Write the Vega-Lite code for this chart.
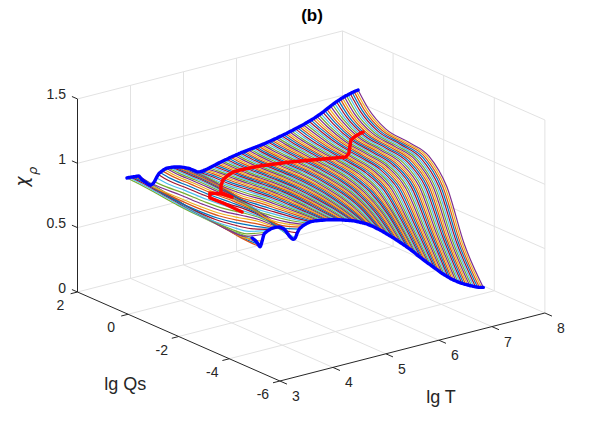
{"$schema":"https://vega.github.io/schema/vega-lite/v6.json","width":603,"height":428,"padding":0,"autosize":"none","background":"white","config":{"view":{"stroke":null},"font":"Liberation Sans"},
"data":{"values":[
{"k":"grid","g":"a4","T":4,"Q":2,"c":0},{"k":"grid","g":"a4","T":4,"Q":2,"c":1.5},{"k":"grid","g":"a5","T":5,"Q":2,"c":0},{"k":"grid","g":"a5","T":5,"Q":2,"c":1.5},{"k":"grid","g":"a6","T":6,"Q":2,"c":0},{"k":"grid","g":"a6","T":6,"Q":2,"c":1.5},{"k":"grid","g":"a7","T":7,"Q":2,"c":0},{"k":"grid","g":"a7","T":7,"Q":2,"c":1.5},{"k":"grid","g":"a8","T":8,"Q":2,"c":0},{"k":"grid","g":"a8","T":8,"Q":2,"c":1.5},
{"k":"grid","g":"b0","T":8,"Q":0,"c":0},{"k":"grid","g":"b0","T":8,"Q":0,"c":1.5},{"k":"grid","g":"b2","T":8,"Q":-2,"c":0},{"k":"grid","g":"b2","T":8,"Q":-2,"c":1.5},{"k":"grid","g":"b4","T":8,"Q":-4,"c":0},{"k":"grid","g":"b4","T":8,"Q":-4,"c":1.5},{"k":"grid","g":"b6","T":8,"Q":-6,"c":0},{"k":"grid","g":"b6","T":8,"Q":-6,"c":1.5},
{"k":"grid","g":"c1","T":3,"Q":2,"c":0.5},{"k":"grid","g":"c1","T":8,"Q":2,"c":0.5},{"k":"grid","g":"c2","T":3,"Q":2,"c":1},{"k":"grid","g":"c2","T":8,"Q":2,"c":1},{"k":"grid","g":"c3","T":3,"Q":2,"c":1.5},{"k":"grid","g":"c3","T":8,"Q":2,"c":1.5},
{"k":"grid","g":"d1","T":8,"Q":2,"c":0.5},{"k":"grid","g":"d1","T":8,"Q":-6,"c":0.5},{"k":"grid","g":"d2","T":8,"Q":2,"c":1},{"k":"grid","g":"d2","T":8,"Q":-6,"c":1},{"k":"grid","g":"d3","T":8,"Q":2,"c":1.5},{"k":"grid","g":"d3","T":8,"Q":-6,"c":1.5},
{"k":"grid","g":"e4","T":4,"Q":2,"c":0},{"k":"grid","g":"e4","T":4,"Q":-6,"c":0},{"k":"grid","g":"e5","T":5,"Q":2,"c":0},{"k":"grid","g":"e5","T":5,"Q":-6,"c":0},{"k":"grid","g":"e6","T":6,"Q":2,"c":0},{"k":"grid","g":"e6","T":6,"Q":-6,"c":0},{"k":"grid","g":"e7","T":7,"Q":2,"c":0},{"k":"grid","g":"e7","T":7,"Q":-6,"c":0},{"k":"grid","g":"e8","T":8,"Q":2,"c":0},{"k":"grid","g":"e8","T":8,"Q":-6,"c":0},
{"k":"grid","g":"f2","T":3,"Q":2,"c":0},{"k":"grid","g":"f2","T":8,"Q":2,"c":0},{"k":"grid","g":"f0","T":3,"Q":0,"c":0},{"k":"grid","g":"f0","T":8,"Q":0,"c":0},{"k":"grid","g":"f-2","T":3,"Q":-2,"c":0},{"k":"grid","g":"f-2","T":8,"Q":-2,"c":0},{"k":"grid","g":"f-4","T":3,"Q":-4,"c":0},{"k":"grid","g":"f-4","T":8,"Q":-4,"c":0},
{"k":"axis","g":"z","T":3,"Q":2,"c":0},{"k":"axis","g":"z","T":3,"Q":2,"c":1.5},{"k":"axis","g":"q","T":3,"Q":2,"c":0},{"k":"axis","g":"q","T":3,"Q":-6,"c":0},{"k":"axis","g":"t","T":3,"Q":-6,"c":0},{"k":"axis","g":"t","T":8,"Q":-6,"c":0},
{"k":"axis","g":"z0","T":3,"Q":2,"c":0},{"k":"axis","g":"z0","T":3,"Q":2.22,"c":0},{"k":"axis","g":"z1","T":3,"Q":2,"c":0.5},{"k":"axis","g":"z1","T":3,"Q":2.22,"c":0.5},{"k":"axis","g":"z2","T":3,"Q":2,"c":1},{"k":"axis","g":"z2","T":3,"Q":2.22,"c":1},{"k":"axis","g":"z3","T":3,"Q":2,"c":1.5},{"k":"axis","g":"z3","T":3,"Q":2.22,"c":1.5},
{"k":"axis","g":"q2","T":3,"Q":2,"c":0},{"k":"axis","g":"q2","T":2.87,"Q":2,"c":0},{"k":"axis","g":"q0","T":3,"Q":0,"c":0},{"k":"axis","g":"q0","T":2.87,"Q":0,"c":0},{"k":"axis","g":"q-2","T":3,"Q":-2,"c":0},{"k":"axis","g":"q-2","T":2.87,"Q":-2,"c":0},{"k":"axis","g":"q-4","T":3,"Q":-4,"c":0},{"k":"axis","g":"q-4","T":2.87,"Q":-4,"c":0},{"k":"axis","g":"q-6","T":3,"Q":-6,"c":0},{"k":"axis","g":"q-6","T":2.87,"Q":-6,"c":0},
{"k":"axis","g":"t3","T":3,"Q":-6,"c":0},{"k":"axis","g":"t3","T":3,"Q":-6.28,"c":0},{"k":"axis","g":"t4","T":4,"Q":-6,"c":0},{"k":"axis","g":"t4","T":4,"Q":-6.28,"c":0},{"k":"axis","g":"t5","T":5,"Q":-6,"c":0},{"k":"axis","g":"t5","T":5,"Q":-6.28,"c":0},{"k":"axis","g":"t6","T":6,"Q":-6,"c":0},{"k":"axis","g":"t6","T":6,"Q":-6.28,"c":0},{"k":"axis","g":"t7","T":7,"Q":-6,"c":0},{"k":"axis","g":"t7","T":7,"Q":-6.28,"c":0},{"k":"axis","g":"t8","T":8,"Q":-6,"c":0},{"k":"axis","g":"t8","T":8,"Q":-6.28,"c":0},
{"k":"lz","s":"0","T":3,"Q":2,"c":0},{"k":"lz","s":"0.5","T":3,"Q":2,"c":0.5},{"k":"lz","s":"1","T":3,"Q":2,"c":1},{"k":"lz","s":"1.5","T":3,"Q":2,"c":1.5},
{"k":"lq","s":"2","T":3,"Q":2,"c":0},{"k":"lq","s":"0","T":3,"Q":0,"c":0},{"k":"lq","s":"-2","T":3,"Q":-2,"c":0},{"k":"lq","s":"-4","T":3,"Q":-4,"c":0},{"k":"lq","s":"-6","T":3,"Q":-6,"c":0},
{"k":"lt","s":"3","T":3,"Q":-6,"c":0},{"k":"lt","s":"4","T":4,"Q":-6,"c":0},{"k":"lt","s":"5","T":5,"Q":-6,"c":0},{"k":"lt","s":"6","T":6,"Q":-6,"c":0},{"k":"lt","s":"7","T":7,"Q":-6,"c":0},{"k":"lt","s":"8","T":8,"Q":-6,"c":0},
{"k":"ttl","s":"lg Qs","T":1.05,"Q":-3.97,"c":0},{"k":"ttl","s":"lg T","T":4.46,"Q":-9.31,"c":0},{"k":"head","s":"(b)","T":7.425,"Q":2,"c":1.676},
{"k":"chi","s":"χ","T":1.98,"Q":2,"c":0.966},{"k":"rho","s":"ρ","T":2.16,"Q":2,"c":1.03},
{"k":"red","o":1,"T":4.6,"Q":-1.15,"c":0.725},{"k":"red","o":2,"T":4.5,"Q":-0.69,"c":0.758},{"k":"red","o":3,"T":4.4,"Q":-0.3,"c":0.782},{"k":"red","o":4,"T":4.4,"Q":-0.3,"c":0.82},{"k":"red","o":5,"T":4.5,"Q":-0.57,"c":0.825},{"k":"red","o":6,"T":4.6,"Q":-0.75,"c":0.806},{"k":"red","o":7,"T":4.55,"Q":-0.42,"c":0.82},{"k":"red","o":8,"T":4.7,"Q":-0.11,"c":0.828},{"k":"red","o":9,"T":4.85,"Q":0.13,"c":0.836},{"k":"red","o":10,"T":5.05,"Q":0.34,"c":0.836},{"k":"red","o":11,"T":5.26,"Q":0.59,"c":0.814},{"k":"red","o":12,"T":5.41,"Q":0.63,"c":0.812},{"k":"red","o":13,"T":5.69,"Q":0.43,"c":0.83},{"k":"red","o":14,"T":6.11,"Q":0.11,"c":0.845},{"k":"red","o":15,"T":6.49,"Q":-0.28,"c":0.86},{"k":"red","o":16,"T":7.0,"Q":-0.23,"c":0.819},{"k":"red","o":17,"T":7.1,"Q":-0.14,"c":0.831},{"k":"red","o":18,"T":7.2,"Q":0.03,"c":0.861},{"k":"red","o":19,"T":7.3,"Q":0.2,"c":0.882},{"k":"red","o":20,"T":7.45,"Q":0.32,"c":0.888},{"k":"red","o":21,"T":7.6,"Q":0.35,"c":0.9},
{"T":3.6,"Q":1.3,"c":0.883},{"T":3.6,"Q":0.9,"c":0.878},{"T":3.6,"Q":0.2,"c":0.865},{"T":3.6,"Q":-0.7,"c":0.845},{"T":3.6,"Q":-1.5,"c":0.835},{"T":3.6,"Q":-2.2,"c":0.83},{"T":3.6,"Q":-2.9,"c":0.83},{"T":3.6,"Q":-3.65,"c":0.845},
{"T":3.637,"Q":1.3,"c":0.883},{"T":3.637,"Q":0.9,"c":0.878},{"T":3.637,"Q":0.2,"c":0.864},{"T":3.637,"Q":-0.7,"c":0.843},{"T":3.637,"Q":-1.5,"c":0.83},{"T":3.637,"Q":-2.2,"c":0.823},{"T":3.637,"Q":-2.9,"c":0.815},{"T":3.637,"Q":-3.65,"c":0.828},
{"T":3.674,"Q":1.3,"c":0.882},{"T":3.674,"Q":0.9,"c":0.877},{"T":3.674,"Q":0.2,"c":0.862},{"T":3.674,"Q":-0.7,"c":0.84},{"T":3.674,"Q":-1.5,"c":0.825},{"T":3.674,"Q":-2.2,"c":0.815},{"T":3.674,"Q":-2.9,"c":0.8},{"T":3.674,"Q":-3.65,"c":0.81},
{"T":3.711,"Q":1.3,"c":0.88},{"T":3.711,"Q":0.9,"c":0.875},{"T":3.711,"Q":0.2,"c":0.859},{"T":3.711,"Q":-0.7,"c":0.833},{"T":3.711,"Q":-1.5,"c":0.815},{"T":3.711,"Q":-2.2,"c":0.8},{"T":3.711,"Q":-2.9,"c":0.782},{"T":3.711,"Q":-3.65,"c":0.785},
{"T":3.748,"Q":1.3,"c":0.878},{"T":3.748,"Q":0.9,"c":0.874},{"T":3.748,"Q":0.2,"c":0.855},{"T":3.748,"Q":-0.7,"c":0.825},{"T":3.748,"Q":-1.5,"c":0.805},{"T":3.748,"Q":-2.2,"c":0.785},{"T":3.748,"Q":-2.9,"c":0.765},{"T":3.748,"Q":-3.65,"c":0.76},
{"T":3.785,"Q":1.3,"c":0.877},{"T":3.785,"Q":0.9,"c":0.867},{"T":3.785,"Q":0.2,"c":0.845},{"T":3.785,"Q":-0.7,"c":0.813},{"T":3.785,"Q":-1.5,"c":0.79},{"T":3.785,"Q":-2.2,"c":0.772},{"T":3.785,"Q":-2.9,"c":0.765},{"T":3.785,"Q":-3.65,"c":0.8},
{"T":3.822,"Q":1.3,"c":0.875},{"T":3.822,"Q":0.9,"c":0.86},{"T":3.822,"Q":0.2,"c":0.835},{"T":3.822,"Q":-0.7,"c":0.8},{"T":3.822,"Q":-1.5,"c":0.775},{"T":3.822,"Q":-2.2,"c":0.76},{"T":3.822,"Q":-2.9,"c":0.77},{"T":3.822,"Q":-3.65,"c":0.85},
{"T":3.859,"Q":1.3,"c":0.855},{"T":3.859,"Q":0.9,"c":0.843},{"T":3.859,"Q":0.2,"c":0.818},{"T":3.859,"Q":-0.7,"c":0.785},{"T":3.859,"Q":-1.5,"c":0.767},{"T":3.859,"Q":-2.2,"c":0.767},{"T":3.859,"Q":-2.9,"c":0.785},{"T":3.859,"Q":-3.65,"c":0.862},
{"T":3.896,"Q":1.3,"c":0.835},{"T":3.896,"Q":0.9,"c":0.825},{"T":3.896,"Q":0.2,"c":0.8},{"T":3.896,"Q":-0.7,"c":0.77},{"T":3.896,"Q":-1.5,"c":0.76},{"T":3.896,"Q":-2.2,"c":0.775},{"T":3.896,"Q":-2.9,"c":0.8},{"T":3.896,"Q":-3.65,"c":0.87},
{"T":3.933,"Q":1.3,"c":0.82},{"T":3.933,"Q":0.9,"c":0.805},{"T":3.933,"Q":0.2,"c":0.785},{"T":3.933,"Q":-0.7,"c":0.767},{"T":3.933,"Q":-1.5,"c":0.767},{"T":3.933,"Q":-2.2,"c":0.787},{"T":3.933,"Q":-2.9,"c":0.818},{"T":3.933,"Q":-3.65,"c":0.876},
{"T":3.97,"Q":1.3,"c":0.805},{"T":3.97,"Q":0.9,"c":0.785},{"T":3.97,"Q":0.2,"c":0.77},{"T":3.97,"Q":-0.7,"c":0.765},{"T":3.97,"Q":-1.5,"c":0.775},{"T":3.97,"Q":-2.2,"c":0.8},{"T":3.97,"Q":-2.9,"c":0.835},{"T":3.97,"Q":-3.65,"c":0.88},
{"T":4.007,"Q":1.3,"c":0.79},{"T":4.007,"Q":0.9,"c":0.78},{"T":4.007,"Q":0.2,"c":0.775},{"T":4.007,"Q":-0.7,"c":0.775},{"T":4.007,"Q":-1.5,"c":0.787},{"T":4.007,"Q":-2.2,"c":0.815},{"T":4.007,"Q":-2.9,"c":0.85},{"T":4.007,"Q":-3.65,"c":0.881},
{"T":4.043,"Q":1.3,"c":0.78},{"T":4.043,"Q":0.9,"c":0.775},{"T":4.043,"Q":0.2,"c":0.78},{"T":4.043,"Q":-0.7,"c":0.785},{"T":4.043,"Q":-1.5,"c":0.8},{"T":4.043,"Q":-2.2,"c":0.83},{"T":4.043,"Q":-2.9,"c":0.865},{"T":4.043,"Q":-3.65,"c":0.88},
{"T":4.08,"Q":1.3,"c":0.785},{"T":4.08,"Q":0.9,"c":0.787},{"T":4.08,"Q":0.2,"c":0.795},{"T":4.08,"Q":-0.7,"c":0.8},{"T":4.08,"Q":-1.5,"c":0.815},{"T":4.08,"Q":-2.2,"c":0.845},{"T":4.08,"Q":-2.9,"c":0.873},{"T":4.08,"Q":-3.65,"c":0.878},
{"T":4.117,"Q":1.3,"c":0.8},{"T":4.117,"Q":0.9,"c":0.8},{"T":4.117,"Q":0.2,"c":0.81},{"T":4.117,"Q":-0.7,"c":0.815},{"T":4.117,"Q":-1.5,"c":0.83},{"T":4.117,"Q":-2.2,"c":0.86},{"T":4.117,"Q":-2.9,"c":0.88},{"T":4.117,"Q":-3.65,"c":0.875},
{"T":4.154,"Q":1.3,"c":0.826},{"T":4.154,"Q":0.9,"c":0.818},{"T":4.154,"Q":0.2,"c":0.825},{"T":4.154,"Q":-0.7,"c":0.83},{"T":4.154,"Q":-1.5,"c":0.845},{"T":4.154,"Q":-2.2,"c":0.868},{"T":4.154,"Q":-2.9,"c":0.878},{"T":4.154,"Q":-3.65,"c":0.866},
{"T":4.191,"Q":1.3,"c":0.848},{"T":4.191,"Q":0.9,"c":0.835},{"T":4.191,"Q":0.2,"c":0.84},{"T":4.191,"Q":-0.7,"c":0.845},{"T":4.191,"Q":-1.5,"c":0.86},{"T":4.191,"Q":-2.2,"c":0.875},{"T":4.191,"Q":-2.9,"c":0.875},{"T":4.191,"Q":-3.65,"c":0.855},
{"T":4.228,"Q":1.3,"c":0.86},{"T":4.228,"Q":0.9,"c":0.848},{"T":4.228,"Q":0.2,"c":0.851},{"T":4.228,"Q":-0.7,"c":0.855},{"T":4.228,"Q":-1.5,"c":0.868},{"T":4.228,"Q":-2.2,"c":0.876},{"T":4.228,"Q":-2.9,"c":0.868},{"T":4.228,"Q":-3.65,"c":0.835},
{"T":4.265,"Q":1.3,"c":0.868},{"T":4.265,"Q":0.9,"c":0.86},{"T":4.265,"Q":0.2,"c":0.862},{"T":4.265,"Q":-0.7,"c":0.865},{"T":4.265,"Q":-1.5,"c":0.875},{"T":4.265,"Q":-2.2,"c":0.875},{"T":4.265,"Q":-2.9,"c":0.86},{"T":4.265,"Q":-3.65,"c":0.81},
{"T":4.302,"Q":1.3,"c":0.875},{"T":4.302,"Q":0.9,"c":0.866},{"T":4.302,"Q":0.2,"c":0.869},{"T":4.302,"Q":-0.7,"c":0.87},{"T":4.302,"Q":-1.5,"c":0.876},{"T":4.302,"Q":-2.2,"c":0.871},{"T":4.302,"Q":-2.9,"c":0.845},{"T":4.302,"Q":-3.65,"c":0.785},
{"T":4.339,"Q":1.3,"c":0.88},{"T":4.339,"Q":0.9,"c":0.872},{"T":4.339,"Q":0.2,"c":0.875},{"T":4.339,"Q":-0.7,"c":0.875},{"T":4.339,"Q":-1.5,"c":0.875},{"T":4.339,"Q":-2.2,"c":0.865},{"T":4.339,"Q":-2.9,"c":0.825},{"T":4.339,"Q":-3.65,"c":0.765},
{"T":4.376,"Q":1.3,"c":0.88},{"T":4.376,"Q":0.9,"c":0.875},{"T":4.376,"Q":0.2,"c":0.878},{"T":4.376,"Q":-0.7,"c":0.876},{"T":4.376,"Q":-1.5,"c":0.871},{"T":4.376,"Q":-2.2,"c":0.853},{"T":4.376,"Q":-2.9,"c":0.802},{"T":4.376,"Q":-3.65,"c":0.752},
{"T":4.413,"Q":1.3,"c":0.878},{"T":4.413,"Q":0.9,"c":0.878},{"T":4.413,"Q":0.2,"c":0.88},{"T":4.413,"Q":-0.7,"c":0.875},{"T":4.413,"Q":-1.5,"c":0.865},{"T":4.413,"Q":-2.2,"c":0.84},{"T":4.413,"Q":-2.9,"c":0.78},{"T":4.413,"Q":-3.65,"c":0.76},
{"T":4.45,"Q":1.3,"c":0.877},{"T":4.45,"Q":0.9,"c":0.879},{"T":4.45,"Q":0.2,"c":0.88},{"T":4.45,"Q":-0.7,"c":0.871},{"T":4.45,"Q":-1.5,"c":0.856},{"T":4.45,"Q":-2.2,"c":0.82},{"T":4.45,"Q":-2.9,"c":0.768},{"T":4.45,"Q":-3.65,"c":0.795},
{"T":4.487,"Q":1.3,"c":0.875},{"T":4.487,"Q":0.9,"c":0.878},{"T":4.487,"Q":0.2,"c":0.878},{"T":4.487,"Q":-0.7,"c":0.865},{"T":4.487,"Q":-1.5,"c":0.845},{"T":4.487,"Q":-2.2,"c":0.8},{"T":4.487,"Q":-2.9,"c":0.765},{"T":4.487,"Q":-3.65,"c":0.82},
{"T":4.524,"Q":1.3,"c":0.871},{"T":4.524,"Q":0.9,"c":0.875},{"T":4.524,"Q":0.2,"c":0.874},{"T":4.524,"Q":-0.7,"c":0.858},{"T":4.524,"Q":-1.5,"c":0.832},{"T":4.524,"Q":-2.2,"c":0.78},{"T":4.524,"Q":-2.9,"c":0.778},{"T":4.524,"Q":-3.65,"c":0.831},
{"T":4.561,"Q":1.3,"c":0.867},{"T":4.561,"Q":0.9,"c":0.87},{"T":4.561,"Q":0.2,"c":0.868},{"T":4.561,"Q":-0.7,"c":0.85},{"T":4.561,"Q":-1.5,"c":0.815},{"T":4.561,"Q":-2.2,"c":0.77},{"T":4.561,"Q":-2.9,"c":0.79},{"T":4.561,"Q":-3.65,"c":0.84},
{"T":4.598,"Q":1.3,"c":0.863},{"T":4.598,"Q":0.9,"c":0.865},{"T":4.598,"Q":0.2,"c":0.862},{"T":4.598,"Q":-0.7,"c":0.84},{"T":4.598,"Q":-1.5,"c":0.795},{"T":4.598,"Q":-2.2,"c":0.777},{"T":4.598,"Q":-2.9,"c":0.8},{"T":4.598,"Q":-3.65,"c":0.845},
{"T":4.635,"Q":1.3,"c":0.858},{"T":4.635,"Q":0.9,"c":0.86},{"T":4.635,"Q":0.2,"c":0.855},{"T":4.635,"Q":-0.7,"c":0.825},{"T":4.635,"Q":-1.5,"c":0.775},{"T":4.635,"Q":-2.2,"c":0.785},{"T":4.635,"Q":-2.9,"c":0.81},{"T":4.635,"Q":-3.65,"c":0.85},
{"T":4.672,"Q":1.3,"c":0.852},{"T":4.672,"Q":0.9,"c":0.853},{"T":4.672,"Q":0.2,"c":0.846},{"T":4.672,"Q":-0.7,"c":0.805},{"T":4.672,"Q":-1.5,"c":0.779},{"T":4.672,"Q":-2.2,"c":0.795},{"T":4.672,"Q":-2.9,"c":0.818},{"T":4.672,"Q":-3.65,"c":0.853},
{"T":4.708,"Q":1.3,"c":0.845},{"T":4.708,"Q":0.9,"c":0.845},{"T":4.708,"Q":0.2,"c":0.835},{"T":4.708,"Q":-0.7,"c":0.785},{"T":4.708,"Q":-1.5,"c":0.785},{"T":4.708,"Q":-2.2,"c":0.805},{"T":4.708,"Q":-2.9,"c":0.825},{"T":4.708,"Q":-3.65,"c":0.855},
{"T":4.745,"Q":1.3,"c":0.838},{"T":4.745,"Q":0.9,"c":0.835},{"T":4.745,"Q":0.2,"c":0.82},{"T":4.745,"Q":-0.7,"c":0.78},{"T":4.745,"Q":-1.5,"c":0.795},{"T":4.745,"Q":-2.2,"c":0.813},{"T":4.745,"Q":-2.9,"c":0.83},{"T":4.745,"Q":-3.65,"c":0.854},
{"T":4.782,"Q":1.3,"c":0.83},{"T":4.782,"Q":0.9,"c":0.825},{"T":4.782,"Q":0.2,"c":0.805},{"T":4.782,"Q":-0.7,"c":0.78},{"T":4.782,"Q":-1.5,"c":0.805},{"T":4.782,"Q":-2.2,"c":0.82},{"T":4.782,"Q":-2.9,"c":0.835},{"T":4.782,"Q":-3.65,"c":0.853},
{"T":4.819,"Q":1.3,"c":0.82},{"T":4.819,"Q":0.9,"c":0.813},{"T":4.819,"Q":0.2,"c":0.793},{"T":4.819,"Q":-0.7,"c":0.787},{"T":4.819,"Q":-1.5,"c":0.813},{"T":4.819,"Q":-2.2,"c":0.825},{"T":4.819,"Q":-2.9,"c":0.838},{"T":4.819,"Q":-3.65,"c":0.85},
{"T":4.856,"Q":1.3,"c":0.81},{"T":4.856,"Q":0.9,"c":0.8},{"T":4.856,"Q":0.2,"c":0.785},{"T":4.856,"Q":-0.7,"c":0.795},{"T":4.856,"Q":-1.5,"c":0.82},{"T":4.856,"Q":-2.2,"c":0.83},{"T":4.856,"Q":-2.9,"c":0.84},{"T":4.856,"Q":-3.65,"c":0.848},
{"T":4.893,"Q":1.3,"c":0.8},{"T":4.893,"Q":0.9,"c":0.794},{"T":4.893,"Q":0.2,"c":0.787},{"T":4.893,"Q":-0.7,"c":0.803},{"T":4.893,"Q":-1.5,"c":0.825},{"T":4.893,"Q":-2.2,"c":0.833},{"T":4.893,"Q":-2.9,"c":0.84},{"T":4.893,"Q":-3.65,"c":0.845},
{"T":4.93,"Q":1.3,"c":0.79},{"T":4.93,"Q":0.9,"c":0.79},{"T":4.93,"Q":0.2,"c":0.79},{"T":4.93,"Q":-0.7,"c":0.81},{"T":4.93,"Q":-1.5,"c":0.83},{"T":4.93,"Q":-2.2,"c":0.835},{"T":4.93,"Q":-2.9,"c":0.84},{"T":4.93,"Q":-3.65,"c":0.842},
{"T":4.967,"Q":1.3,"c":0.786},{"T":4.967,"Q":0.9,"c":0.791},{"T":4.967,"Q":0.2,"c":0.795},{"T":4.967,"Q":-0.7,"c":0.815},{"T":4.967,"Q":-1.5,"c":0.833},{"T":4.967,"Q":-2.2,"c":0.837},{"T":4.967,"Q":-2.9,"c":0.839},{"T":4.967,"Q":-3.65,"c":0.84},
{"T":5.004,"Q":1.3,"c":0.785},{"T":5.004,"Q":0.9,"c":0.793},{"T":5.004,"Q":0.2,"c":0.8},{"T":5.004,"Q":-0.7,"c":0.82},{"T":5.004,"Q":-1.5,"c":0.835},{"T":5.004,"Q":-2.2,"c":0.838},{"T":5.004,"Q":-2.9,"c":0.838},{"T":5.004,"Q":-3.65,"c":0.837},
{"T":5.041,"Q":1.3,"c":0.787},{"T":5.041,"Q":0.9,"c":0.797},{"T":5.041,"Q":0.2,"c":0.804},{"T":5.041,"Q":-0.7,"c":0.823},{"T":5.041,"Q":-1.5,"c":0.838},{"T":5.041,"Q":-2.2,"c":0.839},{"T":5.041,"Q":-2.9,"c":0.837},{"T":5.041,"Q":-3.65,"c":0.834},
{"T":5.078,"Q":1.3,"c":0.79},{"T":5.078,"Q":0.9,"c":0.8},{"T":5.078,"Q":0.2,"c":0.808},{"T":5.078,"Q":-0.7,"c":0.825},{"T":5.078,"Q":-1.5,"c":0.84},{"T":5.078,"Q":-2.2,"c":0.84},{"T":5.078,"Q":-2.9,"c":0.835},{"T":5.078,"Q":-3.65,"c":0.83},
{"T":5.115,"Q":1.3,"c":0.793},{"T":5.115,"Q":0.9,"c":0.803},{"T":5.115,"Q":0.2,"c":0.811},{"T":5.115,"Q":-0.7,"c":0.828},{"T":5.115,"Q":-1.5,"c":0.841},{"T":5.115,"Q":-2.2,"c":0.84},{"T":5.115,"Q":-2.9,"c":0.833},{"T":5.115,"Q":-3.65,"c":0.826},
{"T":5.152,"Q":1.3,"c":0.797},{"T":5.152,"Q":0.9,"c":0.805},{"T":5.152,"Q":0.2,"c":0.813},{"T":5.152,"Q":-0.7,"c":0.83},{"T":5.152,"Q":-1.5,"c":0.842},{"T":5.152,"Q":-2.2,"c":0.84},{"T":5.152,"Q":-2.9,"c":0.83},{"T":5.152,"Q":-3.65,"c":0.822},
{"T":5.189,"Q":1.3,"c":0.801},{"T":5.189,"Q":0.9,"c":0.808},{"T":5.189,"Q":0.2,"c":0.815},{"T":5.189,"Q":-0.7,"c":0.832},{"T":5.189,"Q":-1.5,"c":0.843},{"T":5.189,"Q":-2.2,"c":0.839},{"T":5.189,"Q":-2.9,"c":0.828},{"T":5.189,"Q":-3.65,"c":0.818},
{"T":5.226,"Q":1.3,"c":0.805},{"T":5.226,"Q":0.9,"c":0.81},{"T":5.226,"Q":0.2,"c":0.817},{"T":5.226,"Q":-0.7,"c":0.833},{"T":5.226,"Q":-1.5,"c":0.843},{"T":5.226,"Q":-2.2,"c":0.838},{"T":5.226,"Q":-2.9,"c":0.826},{"T":5.226,"Q":-3.65,"c":0.815},
{"T":5.263,"Q":1.3,"c":0.809},{"T":5.263,"Q":0.9,"c":0.813},{"T":5.263,"Q":0.2,"c":0.819},{"T":5.263,"Q":-0.7,"c":0.835},{"T":5.263,"Q":-1.5,"c":0.843},{"T":5.263,"Q":-2.2,"c":0.837},{"T":5.263,"Q":-2.9,"c":0.824},{"T":5.263,"Q":-3.65,"c":0.81},
{"T":5.3,"Q":1.3,"c":0.813},{"T":5.3,"Q":0.9,"c":0.815},{"T":5.3,"Q":0.2,"c":0.82},{"T":5.3,"Q":-0.7,"c":0.836},{"T":5.3,"Q":-1.5,"c":0.843},{"T":5.3,"Q":-2.2,"c":0.836},{"T":5.3,"Q":-2.9,"c":0.822},{"T":5.3,"Q":-3.65,"c":0.805},
{"T":5.337,"Q":1.3,"c":0.817},{"T":5.337,"Q":0.9,"c":0.818},{"T":5.337,"Q":0.2,"c":0.822},{"T":5.337,"Q":-0.7,"c":0.837},{"T":5.337,"Q":-1.5,"c":0.843},{"T":5.337,"Q":-2.2,"c":0.835},{"T":5.337,"Q":-2.9,"c":0.82},{"T":5.337,"Q":-3.65,"c":0.8},
{"T":5.373,"Q":1.3,"c":0.82},{"T":5.373,"Q":0.9,"c":0.82},{"T":5.373,"Q":0.2,"c":0.823},{"T":5.373,"Q":-0.7,"c":0.838},{"T":5.373,"Q":-1.5,"c":0.842},{"T":5.373,"Q":-2.2,"c":0.834},{"T":5.373,"Q":-2.9,"c":0.818},{"T":5.373,"Q":-3.65,"c":0.795},
{"T":5.41,"Q":1.3,"c":0.823},{"T":5.41,"Q":0.9,"c":0.822},{"T":5.41,"Q":0.2,"c":0.825},{"T":5.41,"Q":-0.7,"c":0.839},{"T":5.41,"Q":-1.5,"c":0.842},{"T":5.41,"Q":-2.2,"c":0.833},{"T":5.41,"Q":-2.9,"c":0.816},{"T":5.41,"Q":-3.65,"c":0.79},
{"T":5.447,"Q":1.3,"c":0.827},{"T":5.447,"Q":0.9,"c":0.823},{"T":5.447,"Q":0.2,"c":0.827},{"T":5.447,"Q":-0.7,"c":0.84},{"T":5.447,"Q":-1.5,"c":0.841},{"T":5.447,"Q":-2.2,"c":0.832},{"T":5.447,"Q":-2.9,"c":0.813},{"T":5.447,"Q":-3.65,"c":0.785},
{"T":5.484,"Q":1.3,"c":0.83},{"T":5.484,"Q":0.9,"c":0.825},{"T":5.484,"Q":0.2,"c":0.829},{"T":5.484,"Q":-0.7,"c":0.84},{"T":5.484,"Q":-1.5,"c":0.841},{"T":5.484,"Q":-2.2,"c":0.83},{"T":5.484,"Q":-2.9,"c":0.811},{"T":5.484,"Q":-3.65,"c":0.78},
{"T":5.521,"Q":1.3,"c":0.834},{"T":5.521,"Q":0.9,"c":0.827},{"T":5.521,"Q":0.2,"c":0.83},{"T":5.521,"Q":-0.7,"c":0.84},{"T":5.521,"Q":-1.5,"c":0.84},{"T":5.521,"Q":-2.2,"c":0.829},{"T":5.521,"Q":-2.9,"c":0.808},{"T":5.521,"Q":-3.65,"c":0.775},
{"T":5.558,"Q":1.3,"c":0.837},{"T":5.558,"Q":0.9,"c":0.83},{"T":5.558,"Q":0.2,"c":0.832},{"T":5.558,"Q":-0.7,"c":0.841},{"T":5.558,"Q":-1.5,"c":0.84},{"T":5.558,"Q":-2.2,"c":0.828},{"T":5.558,"Q":-2.9,"c":0.804},{"T":5.558,"Q":-3.65,"c":0.768},
{"T":5.595,"Q":1.3,"c":0.84},{"T":5.595,"Q":0.9,"c":0.833},{"T":5.595,"Q":0.2,"c":0.834},{"T":5.595,"Q":-0.7,"c":0.842},{"T":5.595,"Q":-1.5,"c":0.84},{"T":5.595,"Q":-2.2,"c":0.826},{"T":5.595,"Q":-2.9,"c":0.8},{"T":5.595,"Q":-3.65,"c":0.76},
{"T":5.632,"Q":1.3,"c":0.843},{"T":5.632,"Q":0.9,"c":0.836},{"T":5.632,"Q":0.2,"c":0.836},{"T":5.632,"Q":-0.7,"c":0.843},{"T":5.632,"Q":-1.5,"c":0.84},{"T":5.632,"Q":-2.2,"c":0.825},{"T":5.632,"Q":-2.9,"c":0.796},{"T":5.632,"Q":-3.65,"c":0.752},
{"T":5.669,"Q":1.3,"c":0.846},{"T":5.669,"Q":0.9,"c":0.838},{"T":5.669,"Q":0.2,"c":0.838},{"T":5.669,"Q":-0.7,"c":0.843},{"T":5.669,"Q":-1.5,"c":0.839},{"T":5.669,"Q":-2.2,"c":0.823},{"T":5.669,"Q":-2.9,"c":0.792},{"T":5.669,"Q":-3.65,"c":0.745},
{"T":5.706,"Q":1.3,"c":0.848},{"T":5.706,"Q":0.9,"c":0.84},{"T":5.706,"Q":0.2,"c":0.839},{"T":5.706,"Q":-0.7,"c":0.844},{"T":5.706,"Q":-1.5,"c":0.839},{"T":5.706,"Q":-2.2,"c":0.822},{"T":5.706,"Q":-2.9,"c":0.788},{"T":5.706,"Q":-3.65,"c":0.737},
{"T":5.743,"Q":1.3,"c":0.851},{"T":5.743,"Q":0.9,"c":0.842},{"T":5.743,"Q":0.2,"c":0.84},{"T":5.743,"Q":-0.7,"c":0.845},{"T":5.743,"Q":-1.5,"c":0.838},{"T":5.743,"Q":-2.2,"c":0.82},{"T":5.743,"Q":-2.9,"c":0.785},{"T":5.743,"Q":-3.65,"c":0.729},
{"T":5.78,"Q":1.3,"c":0.853},{"T":5.78,"Q":0.9,"c":0.844},{"T":5.78,"Q":0.2,"c":0.842},{"T":5.78,"Q":-0.7,"c":0.846},{"T":5.78,"Q":-1.5,"c":0.838},{"T":5.78,"Q":-2.2,"c":0.818},{"T":5.78,"Q":-2.9,"c":0.781},{"T":5.78,"Q":-3.65,"c":0.72},
{"T":5.817,"Q":1.3,"c":0.855},{"T":5.817,"Q":0.9,"c":0.845},{"T":5.817,"Q":0.2,"c":0.843},{"T":5.817,"Q":-0.7,"c":0.846},{"T":5.817,"Q":-1.5,"c":0.838},{"T":5.817,"Q":-2.2,"c":0.817},{"T":5.817,"Q":-2.9,"c":0.777},{"T":5.817,"Q":-3.65,"c":0.71},
{"T":5.854,"Q":1.3,"c":0.857},{"T":5.854,"Q":0.9,"c":0.847},{"T":5.854,"Q":0.2,"c":0.845},{"T":5.854,"Q":-0.7,"c":0.847},{"T":5.854,"Q":-1.5,"c":0.837},{"T":5.854,"Q":-2.2,"c":0.815},{"T":5.854,"Q":-2.9,"c":0.773},{"T":5.854,"Q":-3.65,"c":0.7},
{"T":5.891,"Q":1.3,"c":0.859},{"T":5.891,"Q":0.9,"c":0.849},{"T":5.891,"Q":0.2,"c":0.846},{"T":5.891,"Q":-0.7,"c":0.848},{"T":5.891,"Q":-1.5,"c":0.837},{"T":5.891,"Q":-2.2,"c":0.813},{"T":5.891,"Q":-2.9,"c":0.77},{"T":5.891,"Q":-3.65,"c":0.69},
{"T":5.928,"Q":1.3,"c":0.861},{"T":5.928,"Q":0.9,"c":0.851},{"T":5.928,"Q":0.2,"c":0.848},{"T":5.928,"Q":-0.7,"c":0.849},{"T":5.928,"Q":-1.5,"c":0.836},{"T":5.928,"Q":-2.2,"c":0.812},{"T":5.928,"Q":-2.9,"c":0.766},{"T":5.928,"Q":-3.65,"c":0.678},
{"T":5.965,"Q":1.3,"c":0.863},{"T":5.965,"Q":0.9,"c":0.853},{"T":5.965,"Q":0.2,"c":0.849},{"T":5.965,"Q":-0.7,"c":0.85},{"T":5.965,"Q":-1.5,"c":0.836},{"T":5.965,"Q":-2.2,"c":0.81},{"T":5.965,"Q":-2.9,"c":0.763},{"T":5.965,"Q":-3.65,"c":0.666},
{"T":6.002,"Q":1.3,"c":0.865},{"T":6.002,"Q":0.9,"c":0.855},{"T":6.002,"Q":0.2,"c":0.85},{"T":6.002,"Q":-0.7,"c":0.85},{"T":6.002,"Q":-1.5,"c":0.835},{"T":6.002,"Q":-2.2,"c":0.809},{"T":6.002,"Q":-2.9,"c":0.759},{"T":6.002,"Q":-3.65,"c":0.655},
{"T":6.038,"Q":1.3,"c":0.867},{"T":6.038,"Q":0.9,"c":0.857},{"T":6.038,"Q":0.2,"c":0.851},{"T":6.038,"Q":-0.7,"c":0.85},{"T":6.038,"Q":-1.5,"c":0.835},{"T":6.038,"Q":-2.2,"c":0.807},{"T":6.038,"Q":-2.9,"c":0.755},{"T":6.038,"Q":-3.65,"c":0.643},
{"T":6.075,"Q":1.3,"c":0.869},{"T":6.075,"Q":0.9,"c":0.859},{"T":6.075,"Q":0.2,"c":0.853},{"T":6.075,"Q":-0.7,"c":0.85},{"T":6.075,"Q":-1.5,"c":0.834},{"T":6.075,"Q":-2.2,"c":0.805},{"T":6.075,"Q":-2.9,"c":0.748},{"T":6.075,"Q":-3.65,"c":0.63},
{"T":6.112,"Q":1.3,"c":0.871},{"T":6.112,"Q":0.9,"c":0.861},{"T":6.112,"Q":0.2,"c":0.854},{"T":6.112,"Q":-0.7,"c":0.85},{"T":6.112,"Q":-1.5,"c":0.834},{"T":6.112,"Q":-2.2,"c":0.802},{"T":6.112,"Q":-2.9,"c":0.74},{"T":6.112,"Q":-3.65,"c":0.617},
{"T":6.149,"Q":1.3,"c":0.873},{"T":6.149,"Q":0.9,"c":0.864},{"T":6.149,"Q":0.2,"c":0.856},{"T":6.149,"Q":-0.7,"c":0.85},{"T":6.149,"Q":-1.5,"c":0.833},{"T":6.149,"Q":-2.2,"c":0.8},{"T":6.149,"Q":-2.9,"c":0.733},{"T":6.149,"Q":-3.65,"c":0.604},
{"T":6.186,"Q":1.3,"c":0.876},{"T":6.186,"Q":0.9,"c":0.866},{"T":6.186,"Q":0.2,"c":0.857},{"T":6.186,"Q":-0.7,"c":0.85},{"T":6.186,"Q":-1.5,"c":0.832},{"T":6.186,"Q":-2.2,"c":0.797},{"T":6.186,"Q":-2.9,"c":0.725},{"T":6.186,"Q":-3.65,"c":0.591},
{"T":6.223,"Q":1.3,"c":0.878},{"T":6.223,"Q":0.9,"c":0.869},{"T":6.223,"Q":0.2,"c":0.859},{"T":6.223,"Q":-0.7,"c":0.85},{"T":6.223,"Q":-1.5,"c":0.831},{"T":6.223,"Q":-2.2,"c":0.793},{"T":6.223,"Q":-2.9,"c":0.718},{"T":6.223,"Q":-3.65,"c":0.578},
{"T":6.26,"Q":1.3,"c":0.881},{"T":6.26,"Q":0.9,"c":0.871},{"T":6.26,"Q":0.2,"c":0.86},{"T":6.26,"Q":-0.7,"c":0.85},{"T":6.26,"Q":-1.5,"c":0.83},{"T":6.26,"Q":-2.2,"c":0.79},{"T":6.26,"Q":-2.9,"c":0.71},{"T":6.26,"Q":-3.65,"c":0.565},
{"T":6.297,"Q":1.3,"c":0.884},{"T":6.297,"Q":0.9,"c":0.873},{"T":6.297,"Q":0.2,"c":0.862},{"T":6.297,"Q":-0.7,"c":0.85},{"T":6.297,"Q":-1.5,"c":0.829},{"T":6.297,"Q":-2.2,"c":0.787},{"T":6.297,"Q":-2.9,"c":0.703},{"T":6.297,"Q":-3.65,"c":0.551},
{"T":6.334,"Q":1.3,"c":0.887},{"T":6.334,"Q":0.9,"c":0.875},{"T":6.334,"Q":0.2,"c":0.863},{"T":6.334,"Q":-0.7,"c":0.85},{"T":6.334,"Q":-1.5,"c":0.828},{"T":6.334,"Q":-2.2,"c":0.783},{"T":6.334,"Q":-2.9,"c":0.695},{"T":6.334,"Q":-3.65,"c":0.537},
{"T":6.371,"Q":1.3,"c":0.89},{"T":6.371,"Q":0.9,"c":0.878},{"T":6.371,"Q":0.2,"c":0.865},{"T":6.371,"Q":-0.7,"c":0.85},{"T":6.371,"Q":-1.5,"c":0.827},{"T":6.371,"Q":-2.2,"c":0.78},{"T":6.371,"Q":-2.9,"c":0.688},{"T":6.371,"Q":-3.65,"c":0.523},
{"T":6.408,"Q":1.3,"c":0.893},{"T":6.408,"Q":0.9,"c":0.88},{"T":6.408,"Q":0.2,"c":0.866},{"T":6.408,"Q":-0.7,"c":0.85},{"T":6.408,"Q":-1.5,"c":0.827},{"T":6.408,"Q":-2.2,"c":0.777},{"T":6.408,"Q":-2.9,"c":0.68},{"T":6.408,"Q":-3.65,"c":0.509},
{"T":6.445,"Q":1.3,"c":0.896},{"T":6.445,"Q":0.9,"c":0.882},{"T":6.445,"Q":0.2,"c":0.868},{"T":6.445,"Q":-0.7,"c":0.85},{"T":6.445,"Q":-1.5,"c":0.826},{"T":6.445,"Q":-2.2,"c":0.774},{"T":6.445,"Q":-2.9,"c":0.672},{"T":6.445,"Q":-3.65,"c":0.495},
{"T":6.482,"Q":1.3,"c":0.9},{"T":6.482,"Q":0.9,"c":0.884},{"T":6.482,"Q":0.2,"c":0.869},{"T":6.482,"Q":-0.7,"c":0.85},{"T":6.482,"Q":-1.5,"c":0.826},{"T":6.482,"Q":-2.2,"c":0.771},{"T":6.482,"Q":-2.9,"c":0.665},{"T":6.482,"Q":-3.65,"c":0.481},
{"T":6.519,"Q":1.3,"c":0.903},{"T":6.519,"Q":0.9,"c":0.887},{"T":6.519,"Q":0.2,"c":0.87},{"T":6.519,"Q":-0.7,"c":0.85},{"T":6.519,"Q":-1.5,"c":0.825},{"T":6.519,"Q":-2.2,"c":0.768},{"T":6.519,"Q":-2.9,"c":0.655},{"T":6.519,"Q":-3.65,"c":0.466},
{"T":6.556,"Q":1.3,"c":0.907},{"T":6.556,"Q":0.9,"c":0.889},{"T":6.556,"Q":0.2,"c":0.871},{"T":6.556,"Q":-0.7,"c":0.851},{"T":6.556,"Q":-1.5,"c":0.825},{"T":6.556,"Q":-2.2,"c":0.766},{"T":6.556,"Q":-2.9,"c":0.645},{"T":6.556,"Q":-3.65,"c":0.451},
{"T":6.593,"Q":1.3,"c":0.91},{"T":6.593,"Q":0.9,"c":0.891},{"T":6.593,"Q":0.2,"c":0.872},{"T":6.593,"Q":-0.7,"c":0.851},{"T":6.593,"Q":-1.5,"c":0.825},{"T":6.593,"Q":-2.2,"c":0.764},{"T":6.593,"Q":-2.9,"c":0.635},{"T":6.593,"Q":-3.65,"c":0.436},
{"T":6.63,"Q":1.3,"c":0.914},{"T":6.63,"Q":0.9,"c":0.893},{"T":6.63,"Q":0.2,"c":0.873},{"T":6.63,"Q":-0.7,"c":0.852},{"T":6.63,"Q":-1.5,"c":0.825},{"T":6.63,"Q":-2.2,"c":0.762},{"T":6.63,"Q":-2.9,"c":0.625},{"T":6.63,"Q":-3.65,"c":0.42},
{"T":6.667,"Q":1.3,"c":0.918},{"T":6.667,"Q":0.9,"c":0.896},{"T":6.667,"Q":0.2,"c":0.874},{"T":6.667,"Q":-0.7,"c":0.852},{"T":6.667,"Q":-1.5,"c":0.825},{"T":6.667,"Q":-2.2,"c":0.76},{"T":6.667,"Q":-2.9,"c":0.612},{"T":6.667,"Q":-3.65,"c":0.404},
{"T":6.703,"Q":1.3,"c":0.921},{"T":6.703,"Q":0.9,"c":0.898},{"T":6.703,"Q":0.2,"c":0.875},{"T":6.703,"Q":-0.7,"c":0.853},{"T":6.703,"Q":-1.5,"c":0.826},{"T":6.703,"Q":-2.2,"c":0.758},{"T":6.703,"Q":-2.9,"c":0.6},{"T":6.703,"Q":-3.65,"c":0.388},
{"T":6.74,"Q":1.3,"c":0.925},{"T":6.74,"Q":0.9,"c":0.902},{"T":6.74,"Q":0.2,"c":0.876},{"T":6.74,"Q":-0.7,"c":0.853},{"T":6.74,"Q":-1.5,"c":0.826},{"T":6.74,"Q":-2.2,"c":0.756},{"T":6.74,"Q":-2.9,"c":0.59},{"T":6.74,"Q":-3.65,"c":0.372},
{"T":6.777,"Q":1.3,"c":0.929},{"T":6.777,"Q":0.9,"c":0.905},{"T":6.777,"Q":0.2,"c":0.877},{"T":6.777,"Q":-0.7,"c":0.854},{"T":6.777,"Q":-1.5,"c":0.827},{"T":6.777,"Q":-2.2,"c":0.755},{"T":6.777,"Q":-2.9,"c":0.58},{"T":6.777,"Q":-3.65,"c":0.356},
{"T":6.814,"Q":1.3,"c":0.933},{"T":6.814,"Q":0.9,"c":0.909},{"T":6.814,"Q":0.2,"c":0.878},{"T":6.814,"Q":-0.7,"c":0.854},{"T":6.814,"Q":-1.5,"c":0.827},{"T":6.814,"Q":-2.2,"c":0.752},{"T":6.814,"Q":-2.9,"c":0.57},{"T":6.814,"Q":-3.65,"c":0.341},
{"T":6.851,"Q":1.3,"c":0.937},{"T":6.851,"Q":0.9,"c":0.912},{"T":6.851,"Q":0.2,"c":0.879},{"T":6.851,"Q":-0.7,"c":0.855},{"T":6.851,"Q":-1.5,"c":0.827},{"T":6.851,"Q":-2.2,"c":0.75},{"T":6.851,"Q":-2.9,"c":0.56},{"T":6.851,"Q":-3.65,"c":0.325},
{"T":6.888,"Q":1.3,"c":0.942},{"T":6.888,"Q":0.9,"c":0.916},{"T":6.888,"Q":0.2,"c":0.88},{"T":6.888,"Q":-0.7,"c":0.855},{"T":6.888,"Q":-1.5,"c":0.828},{"T":6.888,"Q":-2.2,"c":0.748},{"T":6.888,"Q":-2.9,"c":0.548},{"T":6.888,"Q":-3.65,"c":0.31},
{"T":6.925,"Q":1.3,"c":0.946},{"T":6.925,"Q":0.9,"c":0.92},{"T":6.925,"Q":0.2,"c":0.881},{"T":6.925,"Q":-0.7,"c":0.856},{"T":6.925,"Q":-1.5,"c":0.828},{"T":6.925,"Q":-2.2,"c":0.745},{"T":6.925,"Q":-2.9,"c":0.535},{"T":6.925,"Q":-3.65,"c":0.295},
{"T":6.962,"Q":1.3,"c":0.951},{"T":6.962,"Q":0.9,"c":0.923},{"T":6.962,"Q":0.2,"c":0.881},{"T":6.962,"Q":-0.7,"c":0.856},{"T":6.962,"Q":-1.5,"c":0.828},{"T":6.962,"Q":-2.2,"c":0.743},{"T":6.962,"Q":-2.9,"c":0.525},{"T":6.962,"Q":-3.65,"c":0.28},
{"T":6.999,"Q":1.3,"c":0.956},{"T":6.999,"Q":0.9,"c":0.925},{"T":6.999,"Q":0.2,"c":0.882},{"T":6.999,"Q":-0.7,"c":0.857},{"T":6.999,"Q":-1.5,"c":0.828},{"T":6.999,"Q":-2.2,"c":0.741},{"T":6.999,"Q":-2.9,"c":0.515},{"T":6.999,"Q":-3.65,"c":0.265},
{"T":7.036,"Q":1.3,"c":0.961},{"T":7.036,"Q":0.9,"c":0.928},{"T":7.036,"Q":0.2,"c":0.883},{"T":7.036,"Q":-0.7,"c":0.857},{"T":7.036,"Q":-1.5,"c":0.829},{"T":7.036,"Q":-2.2,"c":0.739},{"T":7.036,"Q":-2.9,"c":0.507},{"T":7.036,"Q":-3.65,"c":0.25},
{"T":7.073,"Q":1.3,"c":0.966},{"T":7.073,"Q":0.9,"c":0.93},{"T":7.073,"Q":0.2,"c":0.883},{"T":7.073,"Q":-0.7,"c":0.858},{"T":7.073,"Q":-1.5,"c":0.829},{"T":7.073,"Q":-2.2,"c":0.737},{"T":7.073,"Q":-2.9,"c":0.5},{"T":7.073,"Q":-3.65,"c":0.235},
{"T":7.11,"Q":1.3,"c":0.971},{"T":7.11,"Q":0.9,"c":0.933},{"T":7.11,"Q":0.2,"c":0.884},{"T":7.11,"Q":-0.7,"c":0.858},{"T":7.11,"Q":-1.5,"c":0.83},{"T":7.11,"Q":-2.2,"c":0.735},{"T":7.11,"Q":-2.9,"c":0.49},{"T":7.11,"Q":-3.65,"c":0.22},
{"T":7.147,"Q":1.3,"c":0.977},{"T":7.147,"Q":0.9,"c":0.936},{"T":7.147,"Q":0.2,"c":0.884},{"T":7.147,"Q":-0.7,"c":0.859},{"T":7.147,"Q":-1.5,"c":0.83},{"T":7.147,"Q":-2.2,"c":0.733},{"T":7.147,"Q":-2.9,"c":0.48},{"T":7.147,"Q":-3.65,"c":0.205},
{"T":7.184,"Q":1.3,"c":0.983},{"T":7.184,"Q":0.9,"c":0.939},{"T":7.184,"Q":0.2,"c":0.885},{"T":7.184,"Q":-0.7,"c":0.859},{"T":7.184,"Q":-1.5,"c":0.83},{"T":7.184,"Q":-2.2,"c":0.731},{"T":7.184,"Q":-2.9,"c":0.47},{"T":7.184,"Q":-3.65,"c":0.19},
{"T":7.221,"Q":1.3,"c":0.99},{"T":7.221,"Q":0.9,"c":0.942},{"T":7.221,"Q":0.2,"c":0.885},{"T":7.221,"Q":-0.7,"c":0.86},{"T":7.221,"Q":-1.5,"c":0.83},{"T":7.221,"Q":-2.2,"c":0.729},{"T":7.221,"Q":-2.9,"c":0.46},{"T":7.221,"Q":-3.65,"c":0.177},
{"T":7.258,"Q":1.3,"c":0.997},{"T":7.258,"Q":0.9,"c":0.946},{"T":7.258,"Q":0.2,"c":0.886},{"T":7.258,"Q":-0.7,"c":0.861},{"T":7.258,"Q":-1.5,"c":0.83},{"T":7.258,"Q":-2.2,"c":0.727},{"T":7.258,"Q":-2.9,"c":0.45},{"T":7.258,"Q":-3.65,"c":0.164},
{"T":7.295,"Q":1.3,"c":1.004},{"T":7.295,"Q":0.9,"c":0.95},{"T":7.295,"Q":0.2,"c":0.886},{"T":7.295,"Q":-0.7,"c":0.862},{"T":7.295,"Q":-1.5,"c":0.83},{"T":7.295,"Q":-2.2,"c":0.724},{"T":7.295,"Q":-2.9,"c":0.44},{"T":7.295,"Q":-3.65,"c":0.151},
{"T":7.332,"Q":1.3,"c":1.012},{"T":7.332,"Q":0.9,"c":0.954},{"T":7.332,"Q":0.2,"c":0.887},{"T":7.332,"Q":-0.7,"c":0.862},{"T":7.332,"Q":-1.5,"c":0.83},{"T":7.332,"Q":-2.2,"c":0.722},{"T":7.332,"Q":-2.9,"c":0.43},{"T":7.332,"Q":-3.65,"c":0.138},
{"T":7.368,"Q":1.3,"c":1.02},{"T":7.368,"Q":0.9,"c":0.957},{"T":7.368,"Q":0.2,"c":0.887},{"T":7.368,"Q":-0.7,"c":0.863},{"T":7.368,"Q":-1.5,"c":0.831},{"T":7.368,"Q":-2.2,"c":0.72},{"T":7.368,"Q":-2.9,"c":0.42},{"T":7.368,"Q":-3.65,"c":0.126},
{"T":7.405,"Q":1.3,"c":1.028},{"T":7.405,"Q":0.9,"c":0.961},{"T":7.405,"Q":0.2,"c":0.888},{"T":7.405,"Q":-0.7,"c":0.863},{"T":7.405,"Q":-1.5,"c":0.831},{"T":7.405,"Q":-2.2,"c":0.716},{"T":7.405,"Q":-2.9,"c":0.41},{"T":7.405,"Q":-3.65,"c":0.115},
{"T":7.442,"Q":1.3,"c":1.036},{"T":7.442,"Q":0.9,"c":0.965},{"T":7.442,"Q":0.2,"c":0.889},{"T":7.442,"Q":-0.7,"c":0.864},{"T":7.442,"Q":-1.5,"c":0.831},{"T":7.442,"Q":-2.2,"c":0.713},{"T":7.442,"Q":-2.9,"c":0.4},{"T":7.442,"Q":-3.65,"c":0.104},
{"T":7.479,"Q":1.3,"c":1.044},{"T":7.479,"Q":0.9,"c":0.968},{"T":7.479,"Q":0.2,"c":0.889},{"T":7.479,"Q":-0.7,"c":0.864},{"T":7.479,"Q":-1.5,"c":0.832},{"T":7.479,"Q":-2.2,"c":0.71},{"T":7.479,"Q":-2.9,"c":0.39},{"T":7.479,"Q":-3.65,"c":0.094},
{"T":7.516,"Q":1.3,"c":1.051},{"T":7.516,"Q":0.9,"c":0.97},{"T":7.516,"Q":0.2,"c":0.89},{"T":7.516,"Q":-0.7,"c":0.865},{"T":7.516,"Q":-1.5,"c":0.832},{"T":7.516,"Q":-2.2,"c":0.707},{"T":7.516,"Q":-2.9,"c":0.38},{"T":7.516,"Q":-3.65,"c":0.084},
{"T":7.553,"Q":1.3,"c":1.058},{"T":7.553,"Q":0.9,"c":0.973},{"T":7.553,"Q":0.2,"c":0.891},{"T":7.553,"Q":-0.7,"c":0.866},{"T":7.553,"Q":-1.5,"c":0.832},{"T":7.553,"Q":-2.2,"c":0.704},{"T":7.553,"Q":-2.9,"c":0.37},{"T":7.553,"Q":-3.65,"c":0.075},
{"T":7.59,"Q":1.3,"c":1.064},{"T":7.59,"Q":0.9,"c":0.975},{"T":7.59,"Q":0.2,"c":0.892},{"T":7.59,"Q":-0.7,"c":0.866},{"T":7.59,"Q":-1.5,"c":0.832},{"T":7.59,"Q":-2.2,"c":0.7},{"T":7.59,"Q":-2.9,"c":0.36},{"T":7.59,"Q":-3.65,"c":0.066},
{"T":7.627,"Q":1.3,"c":1.07},{"T":7.627,"Q":0.9,"c":0.978},{"T":7.627,"Q":0.2,"c":0.892},{"T":7.627,"Q":-0.7,"c":0.867},{"T":7.627,"Q":-1.5,"c":0.833},{"T":7.627,"Q":-2.2,"c":0.696},{"T":7.627,"Q":-2.9,"c":0.348},{"T":7.627,"Q":-3.65,"c":0.058},
{"T":7.664,"Q":1.3,"c":1.076},{"T":7.664,"Q":0.9,"c":0.98},{"T":7.664,"Q":0.2,"c":0.893},{"T":7.664,"Q":-0.7,"c":0.868},{"T":7.664,"Q":-1.5,"c":0.833},{"T":7.664,"Q":-2.2,"c":0.692},{"T":7.664,"Q":-2.9,"c":0.337},{"T":7.664,"Q":-3.65,"c":0.05},
{"T":7.701,"Q":1.3,"c":1.081},{"T":7.701,"Q":0.9,"c":0.983},{"T":7.701,"Q":0.2,"c":0.893},{"T":7.701,"Q":-0.7,"c":0.868},{"T":7.701,"Q":-1.5,"c":0.833},{"T":7.701,"Q":-2.2,"c":0.688},{"T":7.701,"Q":-2.9,"c":0.328},{"T":7.701,"Q":-3.65,"c":0.042},
{"T":7.738,"Q":1.3,"c":1.086},{"T":7.738,"Q":0.9,"c":0.985},{"T":7.738,"Q":0.2,"c":0.894},{"T":7.738,"Q":-0.7,"c":0.869},{"T":7.738,"Q":-1.5,"c":0.833},{"T":7.738,"Q":-2.2,"c":0.683},{"T":7.738,"Q":-2.9,"c":0.319},{"T":7.738,"Q":-3.65,"c":0.035},
{"T":7.775,"Q":1.3,"c":1.09},{"T":7.775,"Q":0.9,"c":0.988},{"T":7.775,"Q":0.2,"c":0.894},{"T":7.775,"Q":-0.7,"c":0.869},{"T":7.775,"Q":-1.5,"c":0.833},{"T":7.775,"Q":-2.2,"c":0.679},{"T":7.775,"Q":-2.9,"c":0.31},{"T":7.775,"Q":-3.65,"c":0.027},
{"T":7.812,"Q":1.3,"c":1.094},{"T":7.812,"Q":0.9,"c":0.99},{"T":7.812,"Q":0.2,"c":0.895},{"T":7.812,"Q":-0.7,"c":0.87},{"T":7.812,"Q":-1.5,"c":0.833},{"T":7.812,"Q":-2.2,"c":0.675},{"T":7.812,"Q":-2.9,"c":0.302},{"T":7.812,"Q":-3.65,"c":0.02},
{"T":7.849,"Q":1.3,"c":1.098},{"T":7.849,"Q":0.9,"c":0.992},{"T":7.849,"Q":0.2,"c":0.895},{"T":7.849,"Q":-0.7,"c":0.87},{"T":7.849,"Q":-1.5,"c":0.834},{"T":7.849,"Q":-2.2,"c":0.671},{"T":7.849,"Q":-2.9,"c":0.294},{"T":7.849,"Q":-3.65,"c":0.014},
{"T":7.886,"Q":1.3,"c":1.101},{"T":7.886,"Q":0.9,"c":0.994},{"T":7.886,"Q":0.2,"c":0.896},{"T":7.886,"Q":-0.7,"c":0.871},{"T":7.886,"Q":-1.5,"c":0.834},{"T":7.886,"Q":-2.2,"c":0.667},{"T":7.886,"Q":-2.9,"c":0.285},{"T":7.886,"Q":-3.65,"c":0.008},
{"T":7.923,"Q":1.3,"c":1.104},{"T":7.923,"Q":0.9,"c":0.996},{"T":7.923,"Q":0.2,"c":0.896},{"T":7.923,"Q":-0.7,"c":0.871},{"T":7.923,"Q":-1.5,"c":0.834},{"T":7.923,"Q":-2.2,"c":0.664},{"T":7.923,"Q":-2.9,"c":0.278},{"T":7.923,"Q":-3.65,"c":0.004},
{"T":7.96,"Q":1.3,"c":1.106},{"T":7.96,"Q":0.9,"c":0.997},{"T":7.96,"Q":0.2,"c":0.897},{"T":7.96,"Q":-0.7,"c":0.872},{"T":7.96,"Q":-1.5,"c":0.834},{"T":7.96,"Q":-2.2,"c":0.66},{"T":7.96,"Q":-2.9,"c":0.27},{"T":7.96,"Q":-3.65,"c":0}
]},
"transform":[
{"calculate":"77.5+53*(datum.T-3)+25.3*(2-datum.Q)","as":"px"},
{"calculate":"292-13.6*(datum.T-3)+11.125*(2-datum.Q)-128.7*datum.c","as":"py"}
],
"encoding":{
"x":{"field":"px","type":"quantitative","scale":{"domain":[0,603],"nice":false,"zero":false},"axis":null},
"y":{"field":"py","type":"quantitative","scale":{"domain":[428,0],"nice":false,"zero":false},"axis":null}
},
"layer":[
{"transform":[{"filter":"datum.k=='grid'"}],"mark":{"type":"line","stroke":"#e2e2e2","strokeWidth":1},"encoding":{"detail":{"field":"g"}}},
{"transform":[{"filter":"datum.k=='axis'"}],"mark":{"type":"line","stroke":"#262626","strokeWidth":1},"encoding":{"detail":{"field":"g"}}},
{"transform":[{"filter":"!datum.k"}],"mark":{"type":"line","strokeWidth":1.2,"interpolate":"monotone"},"encoding":{"color":{"field":"T","type":"ordinal","legend":null,"scale":{"range":["#77AC30","#4DBEEE","#A2142F","#0072BD","#D95319","#EDB120","#7E2F8E"]}}}},
{"transform":[{"filter":"!datum.k&&(datum.Q==1.3||datum.Q==-3.65)"}],"mark":{"type":"line","stroke":"#0000ff","strokeWidth":3.4,"interpolate":"monotone","strokeCap":"round","strokeJoin":"round"},"encoding":{"detail":{"field":"Q"}}},
{"transform":[{"filter":"datum.k=='red'"}],"mark":{"type":"line","stroke":"#ff0000","strokeWidth":3.5,"strokeCap":"round","strokeJoin":"round"},"encoding":{"order":{"field":"o","type":"quantitative"}}},
{"transform":[{"filter":"datum.k=='lz'"}],"mark":{"type":"text","font":"Liberation Sans","fontSize":14,"color":"#262626","align":"right","baseline":"middle","dx":-11.5,"dy":-3.5},"encoding":{"text":{"field":"s"}}},
{"transform":[{"filter":"datum.k=='lq'"}],"mark":{"type":"text","font":"Liberation Sans","fontSize":14,"color":"#262626","align":"center","baseline":"middle","dx":-17,"dy":14},"encoding":{"text":{"field":"s"}}},
{"transform":[{"filter":"datum.k=='lt'"}],"mark":{"type":"text","font":"Liberation Sans","fontSize":14,"color":"#262626","align":"center","baseline":"middle","dx":16,"dy":16},"encoding":{"text":{"field":"s"}}},
{"transform":[{"filter":"datum.k=='ttl'"}],"mark":{"type":"text","font":"Liberation Sans","fontSize":18,"color":"#262626","align":"center","baseline":"middle"},"encoding":{"text":{"field":"s"}}},
{"transform":[{"filter":"datum.k=='head'"}],"mark":{"type":"text","font":"Liberation Sans","fontSize":17,"fontWeight":"bold","color":"#000000","align":"center","baseline":"middle"},"encoding":{"text":{"field":"s"}}},
{"transform":[{"filter":"datum.k=='chi'"}],"mark":{"type":"text","font":"DejaVu Sans","fontSize":17,"fontStyle":"italic","color":"#262626","align":"center","baseline":"middle","angle":270},"encoding":{"text":{"field":"s"}}},
{"transform":[{"filter":"datum.k=='rho'"}],"mark":{"type":"text","font":"DejaVu Sans","fontSize":13,"fontStyle":"italic","color":"#262626","align":"center","baseline":"middle","angle":270},"encoding":{"text":{"field":"s"}}}
]}
